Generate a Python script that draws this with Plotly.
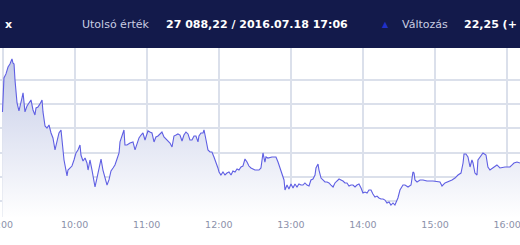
import datetime as dt
import plotly.graph_objects as go

# ---- data (minutes after 09:00, index value) ----
minutes = [0, 1.2, 2.9, 4.6, 6.2, 7.9, 8.7, 9.6, 10.4, 11.2, 12.1, 13.7, 15.4, 16.2, 17.1, 18.7,
           20.4, 22.1, 23.7, 25.4, 27.0, 27.9, 29.5, 31.2, 32.9, 33.7, 35.4, 37.0, 38.7, 40.4,
           42.0, 43.7, 45.4, 47.0, 48.7, 49.5, 50.3, 51.2, 52.8, 53.7, 54.5, 56.2, 57.8, 59.5,
           61.2, 62.8, 64.5, 65.3, 67.0, 68.7, 70.3, 71.2, 72.8, 74.5, 76.1, 77.0, 78.6, 80.3,
           82.0, 83.6, 85.3, 87.0, 88.6, 90.3, 92.0, 93.6, 95.3, 97.0, 97.8, 99.5, 101.1, 101.9,
           103.6, 106.1, 108.6, 110.3, 111.9, 113.6, 115.3, 116.9, 118.6, 120.3, 121.1, 122.7,
           124.4, 126.1, 127.7, 129.4, 131.1, 132.7, 134.4, 136.1, 137.7, 139.4, 141.1, 142.7,
           144.4, 146.0, 147.7, 149.4, 151.0, 152.7, 154.4, 156.0, 157.7, 159.4, 161.0, 162.7,
           163.5, 165.2, 166.9, 167.7, 169.4, 171.0, 172.7, 174.3, 176.0, 177.7, 179.3, 180.2,
           181.8, 183.5, 185.2, 186.8, 188.5, 190.2, 191.8, 193.5, 195.2, 196.8, 198.5, 200.1,
           201.8, 203.5, 205.1, 206.8, 208.5, 210.1, 213.5, 215.1, 216.8, 218.4, 219.3, 220.9,
           224.3, 227.6, 229.3, 230.9, 232.6, 234.3, 235.1, 236.8, 238.4, 240.1, 241.8, 243.4,
           245.1, 246.7, 248.4, 250.1, 251.7, 253.4, 255.1, 256.7, 258.4, 260.1, 260.9, 262.6,
           263.4, 265.1, 266.7, 268.4, 270.1, 271.7, 273.4, 275.1, 276.7, 278.4, 280.1, 281.7,
           283.4, 285.0, 286.7, 288.4, 290.0, 291.7, 293.4, 295.0, 296.7, 298.4, 300.0, 301.7,
           303.4, 305.0, 306.7, 308.3, 310.0, 311.7, 313.3, 315.0, 316.7, 318.3, 320.0, 321.7,
           323.3, 325.0, 326.6, 329.1, 330.8, 333.3, 335.0, 337.5, 340.0, 341.6, 342.5, 343.3,
           345.0, 347.5, 350.0, 353.3, 358.3, 364.1, 365.8, 368.3, 370.8, 374.1, 376.6, 379.1,
           381.6, 383.3, 384.1, 385.7, 387.4, 389.1, 390.7, 391.6, 393.2, 394.9, 395.7, 398.2,
           399.9, 402.4, 404.0, 405.7, 408.2, 411.5, 414.0, 418.2, 422.3, 425.7, 428.2, 430.7]

values = [27133.6, 27161.7, 27165.0, 27170.7, 27173.2, 27177.4, 27174.0, 27173.2, 27160.0, 27148.4,
          27141.0, 27134.4, 27140.2, 27145.1, 27149.3, 27133.6, 27138.5, 27141.0, 27143.5, 27135.2,
          27131.1, 27136.9, 27137.7, 27140.2, 27143.5, 27133.6, 27122.0, 27120.3, 27122.8, 27116.2,
          27112.1, 27102.2, 27110.4, 27116.2, 27118.7, 27110.4, 27102.2, 27093.9, 27085.6, 27080.7,
          27085.6, 27087.3, 27088.9, 27093.9, 27099.7, 27102.2, 27106.3, 27098.0, 27093.1, 27095.5,
          27091.4, 27085.6, 27093.9, 27085.6, 27077.4, 27071.6, 27079.0, 27087.3, 27094.7, 27085.6,
          27079.0, 27073.2, 27077.4, 27084.8, 27087.3, 27089.8, 27094.7, 27099.7, 27108.8, 27114.5,
          27118.7, 27106.3, 27106.3, 27107.9, 27108.8, 27102.2, 27106.3, 27112.1, 27114.5, 27116.2,
          27110.4, 27114.5, 27117.9, 27117.0, 27116.2, 27108.8, 27112.9, 27113.7, 27115.4, 27117.0,
          27112.9, 27111.2, 27110.4, 27107.9, 27104.6, 27113.7, 27114.5, 27115.4, 27114.5, 27109.6,
          27114.5, 27117.0, 27115.4, 27110.4, 27110.4, 27113.7, 27113.7, 27108.8, 27113.7, 27116.2,
          27116.2, 27118.7, 27110.4, 27102.2, 27100.5, 27100.5, 27096.4, 27092.2, 27087.3, 27084.0,
          27081.5, 27084.0, 27081.5, 27083.1, 27084.0, 27081.5, 27084.8, 27084.0, 27086.5, 27085.6,
          27088.1, 27088.9, 27094.7, 27092.2, 27088.9, 27087.3, 27086.5, 27085.6, 27085.6, 27087.3,
          27099.7, 27092.2, 27096.4, 27095.5, 27096.4, 27096.4, 27092.2, 27087.3, 27083.1, 27077.4,
          27069.1, 27073.2, 27069.9, 27074.1, 27070.7, 27074.1, 27071.6, 27074.1, 27073.2, 27073.2,
          27074.9, 27073.2, 27072.4, 27077.4, 27078.2, 27081.5, 27087.3, 27090.6, 27085.6, 27079.0,
          27077.4, 27075.7, 27075.7, 27074.9, 27073.2, 27071.6, 27074.9, 27076.5, 27078.2, 27077.4,
          27076.5, 27074.9, 27074.9, 27072.4, 27073.2, 27073.2, 27071.6, 27073.2, 27074.1, 27070.7,
          27066.6, 27067.4, 27066.6, 27069.1, 27069.1, 27065.8, 27063.3, 27064.1, 27062.5, 27061.7,
          27061.7, 27060.8, 27058.4, 27059.2, 27056.7, 27058.4, 27056.7, 27062.5, 27069.1, 27073.2,
          27073.2, 27071.6, 27073.2, 27084.0, 27083.1, 27077.4, 27075.7, 27077.4, 27077.4, 27076.5,
          27076.5, 27075.7, 27072.4, 27074.9, 27075.7, 27077.4, 27079.0, 27081.5, 27083.1, 27091.4,
          27098.8, 27098.8, 27096.4, 27088.1, 27093.9, 27091.4, 27083.1, 27081.5, 27093.9, 27098.0,
          27099.7, 27098.0, 27088.1, 27085.6, 27087.3, 27089.8, 27087.3, 27088.1, 27088.1, 27091.4,
          27092.2, 27091.4]

grid_values = [27060, 27080, 27100, 27120, 27140, 27160]
header_items = ["x", "Utolsó érték", "27 088,22 / 2016.07.18 17:06", "▲", "Változás", "22,25 (+"]

base = dt.datetime(2016, 7, 18, 9, 0)
times = [base + dt.timedelta(minutes=m) for m in minutes]

W, H = 520, 245
TOP, BOT = 48, 28
plot_h = H - TOP - BOT
y_lo, y_hi = 27046.8, 27186.4

fig = go.Figure()
fig.add_trace(go.Scatter(
    x=times, y=values, mode="lines",
    line=dict(color="#5f5fe3", width=1.1),
    fill="tozeroy",
    fillgradient=dict(type="vertical", start=y_lo, stop=27180,
                      colorscale=[[0, "#ffffff"], [1, "#c4cbe7"]]),
    hoverinfo="skip", showlegend=False,
))

fig.update_layout(
    width=W, height=H,
    margin=dict(l=0, r=0, t=TOP, b=BOT, autoexpand=False),
    paper_bgcolor="white", plot_bgcolor="white",
    font=dict(family="DejaVu Sans, Verdana", size=11),
    xaxis=dict(
        range=[base - dt.timedelta(minutes=2.08), base + dt.timedelta(minutes=430.7)],
        dtick=3600000, tick0=base, tickformat="%-H:%M",
        showgrid=True, gridcolor="#dbe0eb", gridwidth=1.5,
        ticks="", showline=False, zeroline=False, automargin=False,
        tickfont=dict(family="DejaVu Sans, Verdana", size=9.5, color="#8c91aa"),
        ticklabeloverflow="allow",
    ),
    yaxis=dict(
        range=[y_lo, y_hi], tickmode="array", tickvals=grid_values,
        showticklabels=False, showgrid=True, gridcolor="#dbe0eb", gridwidth=1.5,
        zeroline=False, showline=False, ticks="", automargin=False,
    ),
)

# header band
fig.add_shape(type="rect", xref="paper", yref="paper", x0=0, x1=1,
              y0=1, y1=1 + TOP / plot_h, fillcolor="#131a4b", line_width=0, layer="above")

y_txt = 1 + (TOP - 24.5) / plot_h
xs = [3, 80, 164, 380, 400, 462]
styles = [
    dict(color="white", bold=True, size=11),
    dict(color="#c9cde2", bold=False, size=11),
    dict(color="white", bold=True, size=11),
    dict(color="#2030c8", bold=False, size=8),
    dict(color="#c9cde2", bold=False, size=11),
    dict(color="white", bold=True, size=11),
]
for txt, px, st in zip(header_items, xs, styles):
    fig.add_annotation(
        xref="paper", yref="paper", x=px / W, y=y_txt, xanchor="left", yanchor="middle",
        text=f"<b>{txt}</b>" if st["bold"] else txt, showarrow=False,
        font=dict(family="DejaVu Sans, Verdana", size=st["size"], color=st["color"]),
    )

fig.write_html("out.html")
